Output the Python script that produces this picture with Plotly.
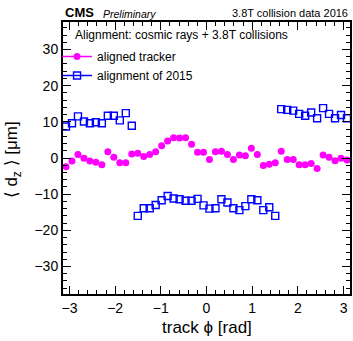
import plotly.graph_objects as go

# track phi bin centres (48 bins over [-pi, pi])
phi = [-3.076, -2.945, -2.814, -2.683, -2.553, -2.422, -2.291, -2.160,
       -2.029, -1.898, -1.767, -1.636, -1.505, -1.374, -1.244, -1.113,
       -0.982, -0.851, -0.720, -0.589, -0.458, -0.327, -0.196, -0.065,
       0.065, 0.196, 0.327, 0.458, 0.589, 0.720, 0.851, 0.982,
       1.113, 1.244, 1.374, 1.505, 1.636, 1.767, 1.898, 2.029,
       2.160, 2.291, 2.422, 2.553, 2.683, 2.814, 2.945, 3.076]

# mean d_z [um] per bin
dz_aligned = [-2.4, -0.8, 1.0, -0.1, -0.8, -1.2, -1.9, 1.75, 0.2, -1.3, -1.3, 1.1,
              1.3, 0.4, 1.0, 1.75, 3.4, 4.7, 5.6, 5.5, 5.6, 3.8, 1.6, 1.6,
              -0.4, 1.75, 1.9, 1.0, -0.4, 0.8, 0.6, 2.7, 1.0, -2.1, -1.75, -1.3,
              1.9, -0.4, -0.4, -1.9, -1.9, -1.5, -2.9, 0.8, 0.2, -0.75, -0.1, -0.55]
dz_2015 = [8.7, 9.6, 11.5, 10.1, 9.6, 9.9, 9.6, 11.7, 11.7, 10.4, 12.4, 8.9,
           -16.0, -13.9, -13.9, -13.0, -11.7, -10.5, -11.2, -11.4, -11.8, -11.8, -11.3, -13.1,
           -14.0, -13.9, -11.4, -12.3, -13.9, -14.4, -13.3, -11.4, -11.7, -14.4, -13.6, -16.0,
           13.5, 13.3, 13.1, 12.2, 11.7, 12.6, 11.0, 13.8, 12.2, 11.0, 11.9, 11.0]

legend_names = ["aligned tracker", "alignment of 2015"]
x_ticks = [-3, -2, -1, 0, 1, 2, 3]
y_ticks = [-30, -20, -10, 0, 10, 20, 30]

MAGENTA = "#ff00ff"
BLUE = "#0000ff"
FONT = "Liberation Sans, Arial, Helvetica, sans-serif"

W, H = 353, 341
L, R, T, B = 63, 1, 22, 47


def px(x):
    return (x - L) / (W - L - R)


def py(y):
    return (H - B - y) / (H - T - B)


def signed(v):
    return ("\u2212" if v < 0 else "") + str(abs(v))


fig = go.Figure()

fig.add_trace(go.Scatter(
    x=phi, y=dz_2015, mode="markers", showlegend=False,
    marker=dict(symbol="square-open", size=7, color=BLUE, line=dict(width=1.4, color=BLUE)),
))
fig.add_trace(go.Scatter(
    x=phi, y=dz_aligned, mode="markers", showlegend=False,
    marker=dict(symbol="circle", size=7, color=MAGENTA, line=dict(width=0)),
))

# legend entries (line + marker)
fig.add_trace(go.Scatter(
    x=[None], y=[None], mode="lines+markers", name=legend_names[0],
    line=dict(color=MAGENTA, width=1.5),
    marker=dict(symbol="circle", size=7, color=MAGENTA),
))
fig.add_trace(go.Scatter(
    x=[None], y=[None], mode="lines+markers", name=legend_names[1],
    line=dict(color=BLUE, width=1.5),
    marker=dict(symbol="square-open", size=7, color=BLUE, line=dict(width=1.4, color=BLUE)),
))

axis_common = dict(
    showline=True, linecolor="black", linewidth=2, mirror="allticks",
    ticks="inside", ticklen=8, tickwidth=1.2, tickcolor="black",
    showgrid=False, zeroline=False,
    tickfont=dict(family=FONT, size=14, color="black"),
)

fig.update_xaxes(
    range=[-3.14159, 3.14159], tickvals=x_ticks, ticktext=[signed(v) for v in x_ticks],
    minor=dict(dtick=0.2, tick0=0, ticks="inside", ticklen=4, tickwidth=1.2, tickcolor="black"),
    **axis_common,
)
fig.update_yaxes(
    range=[-37.6, 37.6], tickvals=y_ticks, ticktext=[signed(v) for v in y_ticks],
    minor=dict(dtick=2, tick0=0, ticks="inside", ticklen=4, tickwidth=1.2, tickcolor="black"),
    **axis_common,
)

annotations = [
    dict(text="<b>CMS</b>", x=px(63), y=py(13), xanchor="left", yanchor="middle",
         font=dict(family=FONT, size=13, color="black")),
    dict(text="<i>Preliminary</i>", x=px(101), y=py(13.5), xanchor="left", yanchor="middle",
         font=dict(family=FONT, size=10.5, color="black")),
    dict(text="3.8T collision data 2016", x=px(352), y=py(13), xanchor="right", yanchor="middle",
         font=dict(family=FONT, size=11, color="black")),
    dict(text="Alignment: cosmic rays + 3.8T collisions", x=px(73), y=py(35), xanchor="left",
         yanchor="middle", font=dict(family=FONT, size=12, color="black")),
    dict(text="track \u03d5 [rad]", x=px(208), y=py(327), xanchor="center", yanchor="middle",
         font=dict(family=FONT, size=17, color="black")),
    dict(text="\u27e8 d<sub>z</sub> \u27e9 [\u03bcm]", x=px(13), y=py(160), xanchor="center",
         yanchor="middle", textangle=-90, font=dict(family=FONT, size=17, color="black")),
]
for a in annotations:
    a.update(xref="paper", yref="paper", showarrow=False)

fig.update_layout(
    width=W, height=H,
    margin=dict(l=L, r=R, t=T, b=B, pad=0),
    paper_bgcolor="white", plot_bgcolor="white",
    annotations=annotations,
    legend=dict(
        x=px(57), y=py(42), xanchor="left", yanchor="top",
        bgcolor="rgba(0,0,0,0)", borderwidth=0,
        font=dict(family=FONT, size=12, color="black"),
        tracegroupgap=0, itemwidth=30,
    ),
)

fig.write_html("out.html")
